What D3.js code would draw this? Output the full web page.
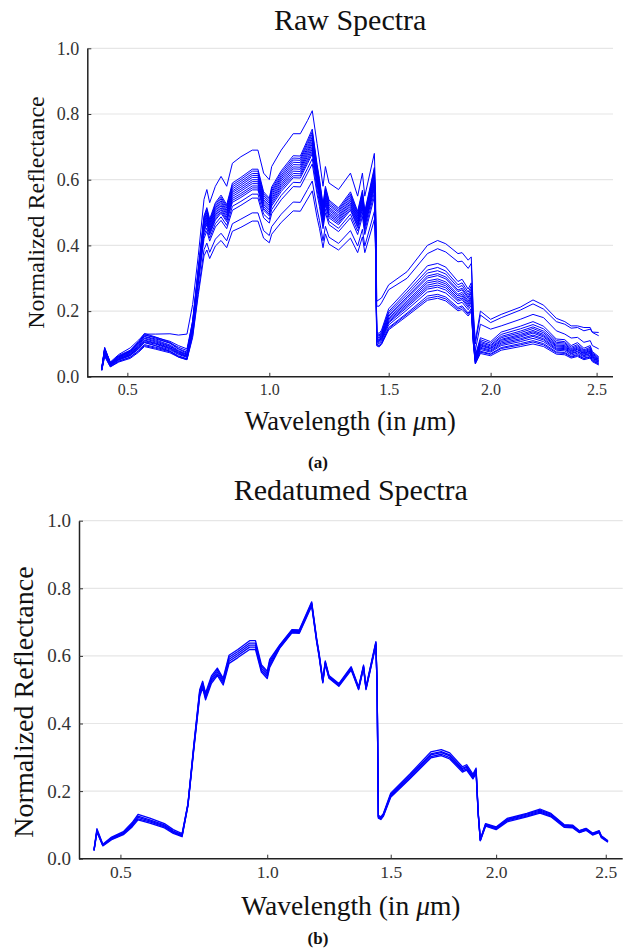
<!DOCTYPE html>
<html>
<head>
<meta charset="utf-8">
<script src="https://cdn.jsdelivr.net/npm/d3@7"></script>
<style>
  body { margin: 0; background: #fff; }
</style>
</head>
<body>
<div id="chart"></div>
<script>
"use strict";

// Wavelength grid (in um), shared by every spectrum
const wavelengths = [0.41, 0.42, 0.44, 0.47, 0.51, 0.54, 0.56, 0.60, 0.65, 0.68, 0.71,
    0.73, 0.75,
    0.77, 0.78, 0.79, 0.81, 0.83, 0.85, 0.87, 0.90, 0.94, 0.96, 0.98, 1.00, 1.01, 1.05, 1.10, 1.13, 1.16, 1.18,
    1.20, 1.21, 1.225, 1.235, 1.25, 1.29, 1.34, 1.37, 1.39, 1.40, 1.44, 1.445,
    1.45, 1.46, 1.47, 1.50, 1.59, 1.69, 1.74, 1.78, 1.84, 1.86, 1.89, 1.905, 1.915,
    1.925, 1.95, 2.00, 2.05, 2.14, 2.20, 2.25, 2.31, 2.35, 2.38, 2.41, 2.44, 2.47, 2.48, 2.51];

// Axis stops: tick wavelengths and where they sit along the axis (fraction of width)
const xTicks = [0.5, 1.0, 1.5, 2.0, 2.5];
const xTickFractions = [0.0762, 0.3462, 0.5733, 0.7672, 0.9688];
const yTicks = [0.0, 0.2, 0.4, 0.6, 0.8, 1.0];

// Raw spectra
const raw01 = [.030,.085,.045,.068,.088,.112,.130,.130,.131,.127,.130, .22,.37,
    .54,.57,.53,.58,.61,.58,.65,.67,.69,.69,.62,.60,.64,.69,.74,.74,.78,.81,.71,.66,.58,.64,.59,.57,.62,.55,.62,.55,.68,.56,
    .230,.235,.240,.280,.320,.400,.415,.405,.375,.378,.355,.365,.200,
    .110,.200,.175,.190,.212,.234,.218,.178,.168,.155,.155,.150,.150,.135,.125];
const raw02 = [.027,.090,.043,.065,.081,.108,.132,.121,.105,.086,.075, .17,.33,
    .490,.515,.480,.530,.553,.524,.590,.607,.632,.632,.563,.544,.578,.627,.673,.672,.721,.754,.647,.603,.524,.580,.538,.514,.563,.504,.568,.504,.637,.509,
    .215,.215,.225,.265,.300,.375,.390,.380,.350,.352,.330,.345,.185,
    .100,.188,.165,.180,.203,.222,.206,.168,.160,.148,.150,.140,.145,.136,.135];
const raw03 = [.026,.087,.042,.063,.079,.105,.128,.118,.102,.084,.072, .165,.33,
    .485,.510,.475,.525,.547,.519,.584,.601,.626,.626,.557,.539,.572,.621,.666,.665,.714,.746,.641,.597,.519,.574,.533,.509,.557,.499,.562,.499,.631,.504,
    .136,.132,.142,.207,.267,.338,.345,.334,.290,.297,.267,.286,.147,
    .080,.160,.145,.155,.175,.190,.180,.140,.130,.118,.120,.105,.110,.095,.085];
const raw04 = [.026,.086,.041,.062,.078,.104,.127,.120,.108,.095,.085, .17,.325,
    .480,.505,.470,.519,.542,.514,.578,.595,.619,.619,.552,.533,.566,.614,.660,.659,.707,.739,.634,.591,.514,.568,.527,.504,.552,.494,.557,.494,.624,.499,
    .131,.127,.137,.199,.258,.325,.333,.322,.280,.286,.258,.276,.142,
    .065,.119,.107,.136,.154,.168,.154,.115,.113,.095,.104,.087,.095,.077,.061];
const raw05 = [.025,.083,.040,.060,.075,.100,.122,.112,.097,.080,.069, .16,.32,
    .475,.500,.466,.514,.536,.508,.572,.589,.613,.613,.546,.528,.561,.608,.653,.652,.699,.731,.628,.585,.508,.563,.522,.499,.546,.489,.551,.489,.618,.494,
    .128,.124,.133,.194,.250,.316,.323,.313,.272,.278,.250,.268,.138,
    .062,.113,.102,.129,.146,.159,.146,.110,.107,.090,.098,.082,.090,.073,.058];
const raw06 = [.024,.079,.038,.057,.071,.095,.116,.106,.092,.076,.066, .155,.315,
    .470,.494,.461,.509,.531,.503,.566,.583,.607,.607,.540,.522,.555,.602,.646,.645,.692,.724,.621,.579,.503,.557,.516,.493,.540,.484,.545,.484,.612,.489,
    .124,.120,.129,.188,.243,.307,.314,.304,.264,.270,.243,.260,.134,
    .059,.108,.097,.123,.139,.152,.139,.105,.103,.086,.094,.079,.086,.070,.055];
const raw07 = [.025,.084,.041,.061,.076,.101,.123,.115,.103,.090,.080, .16,.315,
    .466,.489,.456,.504,.525,.498,.561,.577,.600,.600,.535,.517,.549,.596,.639,.638,.685,.716,.615,.573,.498,.551,.511,.488,.535,.479,.540,.479,.605,.484,
    .122,.118,.126,.184,.238,.301,.308,.298,.259,.265,.238,.255,.131,
    .057,.104,.094,.119,.134,.147,.134,.101,.099,.083,.090,.076,.083,.068,.053];
const raw08 = [.023,.076,.037,.055,.069,.092,.112,.103,.089,.074,.063, .15,.31,
    .461,.484,.451,.498,.520,.493,.555,.571,.594,.594,.529,.511,.543,.589,.633,.632,.678,.709,.608,.567,.493,.545,.506,.483,.529,.474,.534,.474,.599,.478,
    .118,.114,.123,.179,.231,.292,.298,.289,.251,.257,.231,.247,.127,
    .055,.100,.090,.114,.129,.141,.129,.097,.095,.080,.087,.073,.080,.065,.051];
const raw09 = [.024,.081,.039,.058,.073,.097,.118,.109,.094,.078,.067, .155,.305,
    .456,.479,.446,.493,.514,.487,.549,.565,.588,.588,.524,.506,.538,.583,.626,.625,.671,.701,.602,.561,.487,.539,.500,.478,.524,.469,.528,.469,.592,.473,
    .115,.112,.120,.175,.226,.286,.292,.283,.246,.251,.226,.242,.125,
    .053,.097,.087,.111,.125,.137,.125,.094,.092,.078,.084,.071,.078,.063,.049];
const raw10 = [.022,.073,.035,.053,.066,.088,.107,.099,.085,.070,.061, .145,.30,
    .451,.474,.442,.488,.509,.482,.543,.558,.581,.581,.518,.500,.532,.577,.619,.618,.663,.694,.595,.555,.482,.534,.495,.473,.518,.464,.523,.464,.586,.468,
    .113,.109,.117,.171,.221,.279,.286,.277,.240,.246,.221,.237,.122,
    .052,.094,.085,.107,.121,.133,.121,.091,.089,.075,.082,.069,.075,.061,.048];
const raw11 = [.023,.075,.036,.054,.068,.090,.110,.101,.087,.072,.062, .145,.30,
    .446,.469,.437,.482,.503,.477,.537,.552,.575,.575,.512,.495,.526,.571,.612,.612,.656,.686,.589,.549,.477,.528,.490,.468,.512,.459,.517,.459,.580,.463,
    .110,.107,.115,.167,.216,.273,.279,.271,.235,.240,.216,.231,.119,
    .050,.090,.081,.103,.116,.127,.116,.087,.086,.072,.078,.066,.072,.059,.046];
const raw12 = [.021,.071,.034,.051,.064,.085,.104,.095,.082,.068,.059, .14,.295,
    .441,.464,.432,.477,.498,.472,.531,.546,.569,.569,.507,.490,.520,.564,.606,.605,.649,.679,.582,.543,.472,.522,.484,.463,.507,.454,.511,.454,.573,.458,
    .108,.104,.112,.164,.211,.267,.273,.264,.230,.235,.211,.226,.117,
    .048,.087,.078,.099,.112,.123,.112,.084,.083,.070,.076,.064,.070,.057,.044];
const raw13 = [.022,.072,.035,.052,.065,.086,.105,.094,.078,.060,.052, .14,.29,
    .431,.453,.422,.466,.487,.461,.519,.534,.556,.556,.495,.479,.509,.552,.592,.591,.634,.664,.569,.531,.461,.510,.473,.452,.495,.444,.500,.444,.561,.448,
    .104,.101,.108,.158,.204,.258,.264,.255,.222,.227,.204,.218,.113,
    .046,.083,.075,.095,.107,.117,.107,.081,.079,.066,.072,.061,.066,.054,.042];
const raw14 = [.020,.066,.032,.048,.060,.080,.098,.090,.078,.064,.055, .135,.285,
    .421,.443,.413,.456,.476,.451,.507,.522,.544,.544,.484,.468,.497,.539,.579,.578,.620,.648,.556,.519,.451,.499,.463,.442,.484,.433,.488,.433,.548,.438,
    .099,.096,.103,.150,.194,.246,.251,.243,.211,.216,.194,.208,.107,
    .043,.078,.070,.089,.101,.110,.101,.076,.074,.062,.068,.057,.062,.051,.040];
const raw15 = [.020,.065,.031,.047,.059,.078,.095,.087,.076,.062,.054, .125,.26,
    .387,.407,.379,.419,.437,.414,.466,.480,.499,.499,.445,.430,.457,.495,.532,.531,.570,.596,.511,.476,.414,.458,.425,.406,.445,.398,.449,.398,.503,.402,
    .097,.094,.101,.147,.190,.239,.245,.237,.206,.211,.190,.203,.105,
    .041,.075,.068,.086,.097,.106,.097,.073,.071,.060,.065,.055,.060,.049,.038];
const raw16 = [.019,.062,.030,.045,.056,.075,.092,.084,.073,.060,.052, .12,.25,
    .368,.386,.360,.398,.415,.393,.443,.455,.474,.474,.422,.408,.434,.470,.505,.504,.541,.566,.485,.452,.393,.435,.404,.386,.422,.378,.426,.378,.478,.382,
    .094,.091,.098,.143,.185,.233,.239,.231,.201,.205,.185,.198,.102,
    .039,.071,.064,.081,.092,.100,.092,.069,.067,.057,.062,.052,.057,.046,.036];

// Redatumed spectra
const red01 = [.027,.089,.043,.064,.080,.107,.131,.120,.104,.086,.074, .163,.337,
    .500,.525,.490,.541,.564,.534,.602,.619,.645,.645,.574,.555,.590,.632,.678,.677,.727,.760,.652,.608,.528,.585,.542,.518,.568,.508,.573,.508,.642,.513,
    .128,.124,.133,.194,.250,.316,.323,.313,.272,.278,.250,.268,.138,
    .057,.104,.094,.119,.134,.147,.134,.101,.099,.083,.090,.076,.083,.068,.053];
const red02 = [.026,.085,.041,.062,.077,.103,.126,.115,.100,.082,.071, .162,.333,
    .495,.520,.485,.535,.559,.529,.596,.613,.638,.638,.569,.549,.584,.630,.676,.675,.724,.757,.650,.605,.526,.582,.540,.516,.565,.506,.570,.506,.640,.511,
    .125,.121,.130,.190,.245,.310,.317,.307,.267,.273,.245,.263,.135,
    .056,.102,.092,.116,.132,.144,.132,.099,.097,.082,.089,.074,.082,.066,.052];
const red03 = [.025,.083,.040,.060,.075,.100,.122,.112,.097,.080,.069, .160,.330,
    .490,.515,.480,.530,.553,.524,.590,.607,.632,.632,.563,.544,.578,.627,.673,.672,.721,.754,.647,.603,.524,.580,.538,.514,.563,.504,.568,.504,.637,.509,
    .124,.120,.129,.188,.243,.307,.314,.304,.264,.270,.243,.260,.134,
    .055,.100,.090,.114,.129,.141,.129,.097,.095,.080,.087,.073,.080,.065,.051];
const red04 = [.024,.081,.039,.058,.073,.097,.118,.109,.094,.078,.067, .158,.327,
    .485,.510,.475,.525,.547,.519,.584,.601,.626,.626,.557,.539,.572,.624,.670,.669,.718,.751,.644,.601,.522,.578,.536,.512,.561,.502,.566,.502,.634,.507,
    .122,.118,.127,.185,.239,.302,.309,.299,.260,.266,.239,.256,.132,
    .054,.098,.088,.112,.126,.138,.126,.095,.093,.078,.085,.072,.078,.064,.050];
const red05 = [.024,.078,.038,.056,.071,.094,.115,.105,.091,.075,.065, .157,.323,
    .480,.505,.470,.519,.542,.514,.578,.595,.619,.619,.552,.533,.566,.622,.668,.667,.715,.748,.642,.598,.520,.575,.534,.510,.558,.500,.563,.500,.632,.505,
    .120,.116,.125,.182,.236,.298,.305,.295,.256,.262,.236,.252,.130,
    .053,.096,.086,.109,.124,.135,.124,.093,.091,.077,.084,.070,.077,.062,.049];

const rawSpectra = [raw01, raw02, raw03, raw04, raw05, raw06, raw07, raw08,
    raw09, raw10, raw11, raw12, raw13, raw14, raw15, raw16];
const redatumedSpectra = [red01, red02, red03, red04, red05];

const fontFamily = "'Liberation Serif', 'Times New Roman', serif";
const lineColor = "#0000ff";

let svg = d3.select("#chart")
    .append("svg")
    .attr("width", 636)
    .attr("height", 949);

// One panel: grid, axes, spectra and labels
let drawPanel = function (p) {
    let x = d3.scaleLinear()
        .domain(xTicks)
        .range(xTickFractions.map(f => f * p.width));
    let y = d3.scaleLinear()
        .domain([0, 1])
        .range([p.height, 0]);

    let g = svg.append("g")
        .attr("transform", "translate(" + p.left + "," + p.top + ")");

    // horizontal grid
    g.append("g")
        .attr("class", "grid")
        .selectAll("line")
        .data(yTicks.filter(d => d > 0))
        .enter().append("line")
        .attr("x1", 0)
        .attr("x2", p.width)
        .attr("y1", d => y(d))
        .attr("y2", d => y(d))
        .attr("stroke", "#e6e6e6")
        .attr("stroke-width", 1.2);

    // spectra
    let line = d3.line()
        .x((d, i) => x(wavelengths[i]))
        .y(d => y(d));
    g.append("g")
        .attr("class", "spectra")
        .selectAll("path")
        .data(p.spectra)
        .enter().append("path")
        .attr("d", line)
        .attr("fill", "none")
        .attr("stroke", lineColor)
        .attr("stroke-width", p.lineWidth)
        .attr("stroke-linejoin", "round");

    // axes
    let xAxis = g.append("g")
        .attr("transform", "translate(0," + p.height + ")")
        .call(d3.axisBottom(x)
            .tickValues(xTicks)
            .tickFormat(d3.format(".1f"))
            .tickSizeInner(-4)
            .tickSizeOuter(0)
            .tickPadding(7));
    xAxis.select(".domain").attr("d", "M0,0H" + p.width);
    xAxis.attr("font-family", fontFamily).attr("font-size", p.xTickSize);

    let yAxis = g.append("g")
        .call(d3.axisLeft(y)
            .tickValues(yTicks)
            .tickFormat(d3.format(".1f"))
            .tickSizeInner(-4)
            .tickSizeOuter(0)
            .tickPadding(8));
    yAxis.attr("font-family", fontFamily).attr("font-size", p.yTickSize);

    g.selectAll(".domain").attr("stroke", "#222").attr("stroke-width", 1.5);
    g.selectAll(".tick line").attr("stroke", "#333").attr("stroke-width", 1);
    g.selectAll(".tick text").attr("fill", "#333");

    // title
    svg.append("text")
        .attr("x", p.left + p.width / 2)
        .attr("y", p.titleY)
        .attr("text-anchor", "middle")
        .attr("font-family", fontFamily)
        .attr("font-size", p.titleSize)
        .attr("fill", "#111")
        .text(p.title);

    // x label
    let xl = svg.append("text")
        .attr("x", p.left + p.width / 2)
        .attr("y", p.xLabelY)
        .attr("text-anchor", "middle")
        .attr("font-family", fontFamily)
        .attr("font-size", p.xLabelSize)
        .attr("fill", "#111");
    xl.append("tspan").text("Wavelength (in ");
    xl.append("tspan").attr("font-style", "italic").text("\u03bc");
    xl.append("tspan").text("m)");

    // y label
    svg.append("text")
        .attr("transform", "translate(" + p.yLabelX + "," + p.yLabelCenter + ") rotate(-90)")
        .attr("text-anchor", "middle")
        .attr("font-family", fontFamily)
        .attr("font-size", p.yLabelSize)
        .attr("fill", "#111")
        .text("Normalized Reflectance");

    // caption
    svg.append("text")
        .attr("x", 318)
        .attr("y", p.captionY)
        .attr("text-anchor", "middle")
        .attr("font-family", fontFamily)
        .attr("font-weight", "bold")
        .attr("font-size", 17)
        .attr("fill", "#111")
        .text(p.caption);
};

drawPanel({
    left: 87.3, top: 48.3, width: 525.7, height: 328.5,
    spectra: rawSpectra, lineWidth: 1,
    title: "Raw Spectra", titleY: 30, titleSize: 30,
    xLabelY: 430, xLabelSize: 26.5,
    yLabelX: 43.5, yLabelCenter: 212.5, yLabelSize: 24,
    xTickSize: 16, yTickSize: 18,
    caption: "(a)", captionY: 468
});

drawPanel({
    left: 79, top: 520.7, width: 543.7, height: 338,
    spectra: redatumedSpectra, lineWidth: 1.3,
    title: "Redatumed Spectra", titleY: 500, titleSize: 30,
    xLabelY: 915, xLabelSize: 27.5,
    yLabelX: 33, yLabelCenter: 702, yLabelSize: 28,
    xTickSize: 17.5, yTickSize: 19,
    caption: "(b)", captionY: 944
});
</script>
</body>
</html>
